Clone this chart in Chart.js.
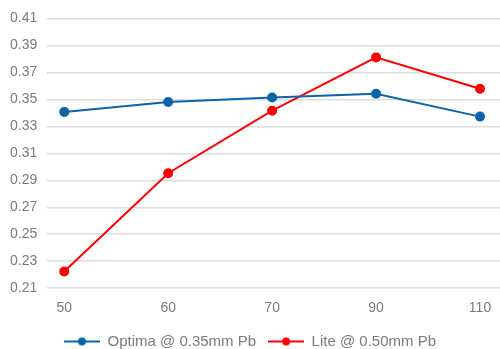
<!DOCTYPE html>
<html>
<head>
<meta charset="utf-8">
<script src="https://cdn.jsdelivr.net/npm/chart.js@4"></script>
<style>
  html, body { margin: 0; padding: 0; background: #fff; }
  #wrap { width: 500px; height: 349px; }
</style>
</head>
<body>
<div id="wrap"><canvas id="chart"></canvas></div>
<script>
// tensões (kV) no eixo x
const xLabels = ['50', '60', '70', '90', '110'];
const optimaValues = [0.3407, 0.348, 0.3513, 0.3542, 0.3372];
const liteValues = [0.2224, 0.2952, 0.3416, 0.3811, 0.3579];
const seriesNames = ['Optima @ 0.35mm Pb', 'Lite @ 0.50mm Pb'];

const BLUE = '#0b63a8';
const RED = '#ff0000';
const TEXT = '#7a7a7a';
const FONT = 'Liberation Sans, Arial, sans-serif';

// ícone da legenda: linha com bolinha no meio
function legendIcon(color) {
    const c = document.createElement('canvas');
    c.width = 36;
    c.height = 10;
    const g = c.getContext('2d');
    g.strokeStyle = color;
    g.lineWidth = 2;
    g.beginPath();
    g.moveTo(0, 5);
    g.lineTo(36, 5);
    g.stroke();
    g.fillStyle = color;
    g.beginPath();
    g.arc(18, 5, 4, 0, Math.PI * 2);
    g.fill();
    return c;
}

function toPoints(values) {
    return values.map((v, i) => ({ x: i, y: v }));
}

const ctx = document.getElementById('chart').getContext('2d');

window.myChart = new Chart(ctx, {
    type: 'line',
    data: {
        datasets: [{
            label: seriesNames[0],
            data: toPoints(optimaValues),
            borderColor: BLUE,
            backgroundColor: BLUE,
            borderWidth: 2,
            pointRadius: 4,
            pointStyle: 'circle',
            legendIcon: legendIcon(BLUE)
        }, {
            label: seriesNames[1],
            data: toPoints(liteValues),
            borderColor: RED,
            backgroundColor: RED,
            borderWidth: 2,
            pointRadius: 4,
            pointStyle: 'circle',
            legendIcon: legendIcon(RED)
        }]
    },
    options: {
        responsive: true,
        maintainAspectRatio: false,
        animation: false,
        layout: { autoPadding: false, padding: { top: 10, right: 0, left: 0, bottom: -10 } },
        plugins: {
            tooltip: { enabled: false },
            legend: {
                position: 'bottom',
                labels: {
                    color: TEXT,
                    font: { family: FONT, size: 15 },
                    usePointStyle: true,
                    pointStyleWidth: 36,
                    padding: 12,
                    generateLabels: function(chart) {
                        return chart.data.datasets.map((ds, i) => ({
                            text: ds.label,
                            pointStyle: ds.legendIcon,
                            fillStyle: ds.borderColor,
                            strokeStyle: ds.borderColor,
                            lineWidth: 0,
                            fontColor: TEXT,
                            hidden: false,
                            datasetIndex: i
                        }));
                    }
                }
            }
        },
        scales: {
            x: {
                type: 'linear',
                min: -0.1635,
                max: 4.1923,
                grid: { display: false, drawTicks: true, tickLength: 7 },
                border: { display: false },
                afterBuildTicks: function(axis) {
                    axis.ticks = xLabels.map((_, i) => ({ value: i }));
                },
                afterFit: function(axis) {
                    // o rótulo "110" cabe dentro do canvas, não precisa de folga
                    axis.paddingRight = 0;
                },
                ticks: {
                    color: TEXT,
                    font: { family: FONT, size: 14 },
                    padding: 5,
                    maxRotation: 0,
                    callback: function(v) { return xLabels[v]; }
                }
            },
            y: {
                min: 0.21,
                max: 0.41,
                grid: { color: '#dddddd', lineWidth: 1.5, drawTicks: false },
                border: { display: false },
                ticks: {
                    stepSize: 0.02,
                    color: TEXT,
                    padding: 10,
                    font: { family: FONT, size: 14 },
                    callback: function(v) { return v.toFixed(2); }
                }
            }
        }
    }
});
</script>
</body>
</html>
